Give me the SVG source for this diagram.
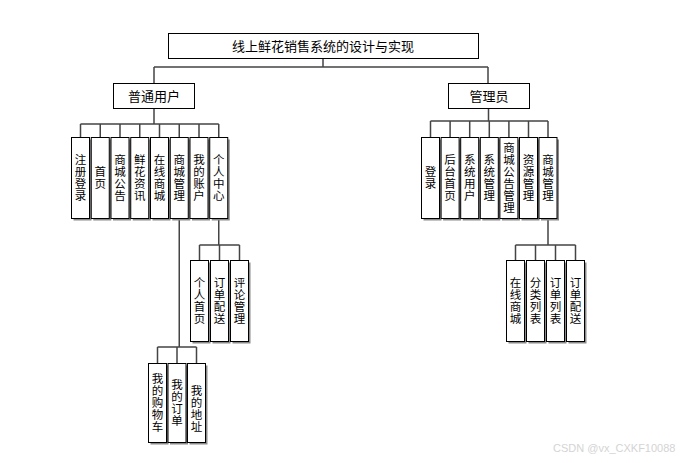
<svg xmlns="http://www.w3.org/2000/svg" width="685" height="463" viewBox="0 0 685 463">
<style>
text{font-family:"Noto Sans CJK SC","Liberation Sans",sans-serif;fill:#000}
.hd{font-size:13px;text-anchor:middle}
.v{font-size:11.5px;text-anchor:middle}
.box{fill:#fff;stroke:#000;stroke-width:1}
.sh{fill:#8a8a8a}
.c{fill:none;stroke:#444;stroke-width:1.5}
.wm{font-family:"Liberation Sans",sans-serif;font-size:11px;fill:#d4d4d4}
</style>
<rect width="685" height="463" fill="#fff"/>
<g id="connectors">
<path class="c" d="M323 58V67M154 67H488M154 67V83M488 67V83"/>
<path class="c" d="M154 108V124M80.5 124H218.75M80.5 124V137M100.25 124V137M120 124V137M139.75 124V137M159.5 124V137M179.25 124V137M199 124V137M218.75 124V137"/>
<path class="c" d="M488.5 108V121M430.5 121H548M430.5 121V137M450.1 121V137M469.7 121V137M489.3 121V137M508.9 121V137M528.5 121V137M548 121V137"/>
<path class="c" d="M179.25 219V347M157.5 347H196.5M157.5 347V363M177 347V363M196.5 347V363"/>
<path class="c" d="M218.75 219V245M199.5 245H239.5M199.5 245V260M219.5 245V260M239.5 245V260"/>
<path class="c" d="M548 219V245M515.5 245H575.5M515.5 245V260M535.5 245V260M555.5 245V260M575.5 245V260"/>
</g>
<g id="title"><rect class="box" x="168.5" y="33.5" width="310" height="25"/><text class="hd" x="323" y="51">线上鲜花销售系统的设计与实现</text></g>
<g id="user"><rect class="box" x="113.5" y="83.5" width="81" height="25"/><text class="hd" x="154" y="100.5">普通用户</text></g>
<g id="admin"><rect class="box" x="448.5" y="83.5" width="81" height="25"/><text class="hd" x="489" y="100.5">管理员</text></g>

<g id="u1"><rect class="sh" x="73.5" y="139.5" width="18" height="81"/><rect class="box" x="71.5" y="137.5" width="18" height="81"/><text class="v"><tspan x="80.5" y="164">注</tspan><tspan x="80.5" y="176">册</tspan><tspan x="80.5" y="188">登</tspan><tspan x="80.5" y="200">录</tspan></text></g>
<g id="u2"><rect class="sh" x="93.25" y="139.5" width="18" height="81"/><rect class="box" x="91.25" y="137.5" width="18" height="81"/><text class="v"><tspan x="100.25" y="176">首</tspan><tspan x="100.25" y="188">页</tspan></text></g>
<g id="u3"><rect class="sh" x="113" y="139.5" width="18" height="81"/><rect class="box" x="111" y="137.5" width="18" height="81"/><text class="v"><tspan x="120" y="164">商</tspan><tspan x="120" y="176">城</tspan><tspan x="120" y="188">公</tspan><tspan x="120" y="200">告</tspan></text></g>
<g id="u4"><rect class="sh" x="132.75" y="139.5" width="18" height="81"/><rect class="box" x="130.75" y="137.5" width="18" height="81"/><text class="v"><tspan x="139.75" y="164">鲜</tspan><tspan x="139.75" y="176">花</tspan><tspan x="139.75" y="188">资</tspan><tspan x="139.75" y="200">讯</tspan></text></g>
<g id="u5"><rect class="sh" x="152.5" y="139.5" width="18" height="81"/><rect class="box" x="150.5" y="137.5" width="18" height="81"/><text class="v"><tspan x="159.5" y="164">在</tspan><tspan x="159.5" y="176">线</tspan><tspan x="159.5" y="188">商</tspan><tspan x="159.5" y="200">城</tspan></text></g>
<g id="u6"><rect class="sh" x="172.25" y="139.5" width="18" height="81"/><rect class="box" x="170.25" y="137.5" width="18" height="81"/><text class="v"><tspan x="179.25" y="164">商</tspan><tspan x="179.25" y="176">城</tspan><tspan x="179.25" y="188">管</tspan><tspan x="179.25" y="200">理</tspan></text></g>
<g id="u7"><rect class="sh" x="192" y="139.5" width="18" height="81"/><rect class="box" x="190" y="137.5" width="18" height="81"/><text class="v"><tspan x="199" y="164">我</tspan><tspan x="199" y="176">的</tspan><tspan x="199" y="188">账</tspan><tspan x="199" y="200">户</tspan></text></g>
<g id="u8"><rect class="sh" x="211.75" y="139.5" width="18" height="81"/><rect class="box" x="209.75" y="137.5" width="18" height="81"/><text class="v"><tspan x="218.75" y="164">个</tspan><tspan x="218.75" y="176">人</tspan><tspan x="218.75" y="188">中</tspan><tspan x="218.75" y="200">心</tspan></text></g>

<g id="u8a"><rect class="sh" x="192.5" y="262.5" width="18" height="81"/><rect class="box" x="190.5" y="260.5" width="18" height="81"/><text class="v"><tspan x="199.5" y="287">个</tspan><tspan x="199.5" y="299">人</tspan><tspan x="199.5" y="311">首</tspan><tspan x="199.5" y="323">页</tspan></text></g>
<g id="u8b"><rect class="sh" x="212.5" y="262.5" width="18" height="81"/><rect class="box" x="210.5" y="260.5" width="18" height="81"/><text class="v"><tspan x="219.5" y="287">订</tspan><tspan x="219.5" y="299">单</tspan><tspan x="219.5" y="311">配</tspan><tspan x="219.5" y="323">送</tspan></text></g>
<g id="u8c"><rect class="sh" x="232.5" y="262.5" width="18" height="81"/><rect class="box" x="230.5" y="260.5" width="18" height="81"/><text class="v"><tspan x="239.5" y="287">评</tspan><tspan x="239.5" y="299">论</tspan><tspan x="239.5" y="311">管</tspan><tspan x="239.5" y="323">理</tspan></text></g>

<g id="u6a"><rect class="sh" x="150.5" y="365.5" width="18" height="79"/><rect class="box" x="148.5" y="363.5" width="18" height="79"/><text class="v"><tspan x="157.5" y="383">我</tspan><tspan x="157.5" y="395">的</tspan><tspan x="157.5" y="407">购</tspan><tspan x="157.5" y="419">物</tspan><tspan x="157.5" y="431">车</tspan></text></g>
<g id="u6b"><rect class="sh" x="170" y="365.5" width="18" height="79"/><rect class="box" x="168" y="363.5" width="18" height="79"/><text class="v"><tspan x="177" y="389">我</tspan><tspan x="177" y="401">的</tspan><tspan x="177" y="413">订</tspan><tspan x="177" y="425">单</tspan></text></g>
<g id="u6c"><rect class="sh" x="189.5" y="365.5" width="18" height="79"/><rect class="box" x="187.5" y="363.5" width="18" height="79"/><text class="v"><tspan x="196.5" y="395">我</tspan><tspan x="196.5" y="407">的</tspan><tspan x="196.5" y="419">地</tspan><tspan x="196.5" y="431">址</tspan></text></g>

<g id="a1"><rect class="sh" x="423.5" y="139.5" width="18" height="81"/><rect class="box" x="421.5" y="137.5" width="18" height="81"/><text class="v"><tspan x="430.5" y="176">登</tspan><tspan x="430.5" y="188">录</tspan></text></g>
<g id="a2"><rect class="sh" x="443.1" y="139.5" width="18" height="81"/><rect class="box" x="441.1" y="137.5" width="18" height="81"/><text class="v"><tspan x="450.1" y="164">后</tspan><tspan x="450.1" y="176">台</tspan><tspan x="450.1" y="188">首</tspan><tspan x="450.1" y="200">页</tspan></text></g>
<g id="a3"><rect class="sh" x="462.7" y="139.5" width="18" height="81"/><rect class="box" x="460.7" y="137.5" width="18" height="81"/><text class="v"><tspan x="469.7" y="164">系</tspan><tspan x="469.7" y="176">统</tspan><tspan x="469.7" y="188">用</tspan><tspan x="469.7" y="200">户</tspan></text></g>
<g id="a4"><rect class="sh" x="482.3" y="139.5" width="18" height="81"/><rect class="box" x="480.3" y="137.5" width="18" height="81"/><text class="v"><tspan x="489.3" y="164">系</tspan><tspan x="489.3" y="176">统</tspan><tspan x="489.3" y="188">管</tspan><tspan x="489.3" y="200">理</tspan></text></g>
<g id="a5"><rect class="sh" x="501.9" y="139.5" width="18" height="81"/><rect class="box" x="499.9" y="137.5" width="18" height="81"/><text class="v"><tspan x="508.9" y="152">商</tspan><tspan x="508.9" y="164">城</tspan><tspan x="508.9" y="176">公</tspan><tspan x="508.9" y="188">告</tspan><tspan x="508.9" y="200">管</tspan><tspan x="508.9" y="212">理</tspan></text></g>
<g id="a6"><rect class="sh" x="521.5" y="139.5" width="18" height="81"/><rect class="box" x="519.5" y="137.5" width="18" height="81"/><text class="v"><tspan x="528.5" y="164">资</tspan><tspan x="528.5" y="176">源</tspan><tspan x="528.5" y="188">管</tspan><tspan x="528.5" y="200">理</tspan></text></g>
<g id="a7"><rect class="sh" x="541" y="139.5" width="18" height="81"/><rect class="box" x="539" y="137.5" width="18" height="81"/><text class="v"><tspan x="548" y="164">商</tspan><tspan x="548" y="176">城</tspan><tspan x="548" y="188">管</tspan><tspan x="548" y="200">理</tspan></text></g>

<g id="a7a"><rect class="sh" x="508.5" y="262.5" width="18" height="81"/><rect class="box" x="506.5" y="260.5" width="18" height="81"/><text class="v"><tspan x="515.5" y="287">在</tspan><tspan x="515.5" y="299">线</tspan><tspan x="515.5" y="311">商</tspan><tspan x="515.5" y="323">城</tspan></text></g>
<g id="a7b"><rect class="sh" x="528.5" y="262.5" width="18" height="81"/><rect class="box" x="526.5" y="260.5" width="18" height="81"/><text class="v"><tspan x="535.5" y="287">分</tspan><tspan x="535.5" y="299">类</tspan><tspan x="535.5" y="311">列</tspan><tspan x="535.5" y="323">表</tspan></text></g>
<g id="a7c"><rect class="sh" x="548.5" y="262.5" width="18" height="81"/><rect class="box" x="546.5" y="260.5" width="18" height="81"/><text class="v"><tspan x="555.5" y="287">订</tspan><tspan x="555.5" y="299">单</tspan><tspan x="555.5" y="311">列</tspan><tspan x="555.5" y="323">表</tspan></text></g>
<g id="a7d"><rect class="sh" x="568.5" y="262.5" width="18" height="81"/><rect class="box" x="566.5" y="260.5" width="18" height="81"/><text class="v"><tspan x="575.5" y="287">订</tspan><tspan x="575.5" y="299">单</tspan><tspan x="575.5" y="311">配</tspan><tspan x="575.5" y="323">送</tspan></text></g>

<text class="wm" x="553" y="452">CSDN @vx_CXKF10088</text>
</svg>
